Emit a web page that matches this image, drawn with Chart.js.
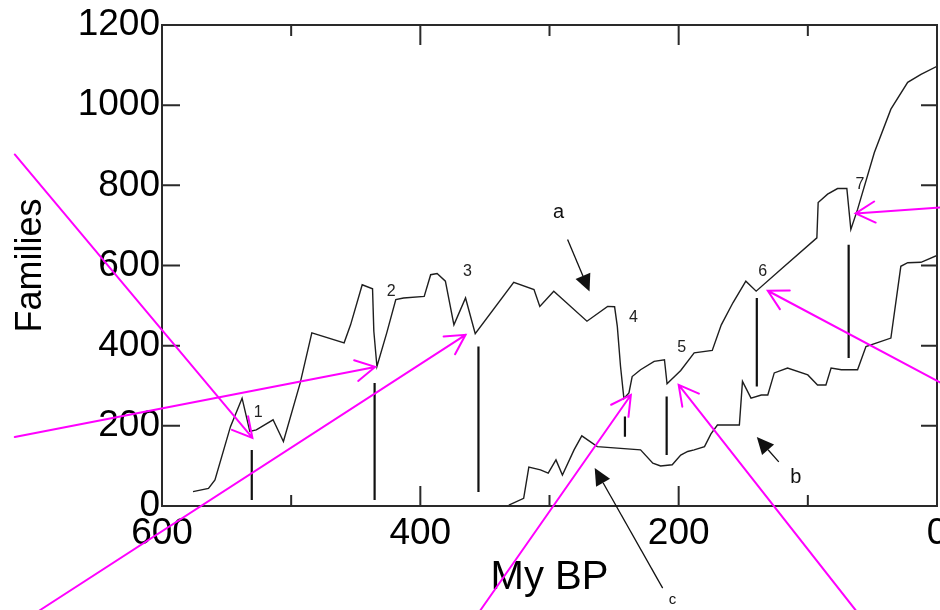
<!DOCTYPE html>
<html>
<head>
<meta charset="utf-8">
<script src="https://cdn.jsdelivr.net/npm/chart.js@4.4.0/dist/chart.umd.min.js"></script>
<style>
  html, body { margin: 0; padding: 0; background: #fff; }
  #wrap { width: 940px; height: 610px; }
</style>
</head>
<body>
<div id="wrap"><canvas id="famChart"></canvas></div>
<script>
// upper curve (a)
var aAge = [576, 564, 559, 547, 538, 532, 527, 514, 506, 493, 484, 459, 454, 445, 437, 436, 433.6, 426, 419, 413,
            397, 392, 387, 380.6, 374, 365, 357.5, 327.7, 312, 307.5, 296.7, 271, 255, 249.6, 247.5, 245, 242.4, 238.5, 236, 229.5,
            219, 211, 209, 198.4, 188, 174, 167, 158, 148, 140, 121, 93, 92, 84.7, 77, 69.8, 66.7, 61.5, 48.5, 35.7,
            22.7, 12.4, 0];
var aFamilies = [36, 44, 65, 198, 269, 186, 190, 215, 161, 307, 432, 407, 452, 552, 542, 436, 348, 432, 515, 519,
                 523, 577, 580, 561, 452, 519, 430, 558, 540, 498, 536, 461, 498, 497, 448, 348, 268, 282, 323, 340,
                 361, 365, 305, 338, 382, 388, 452, 507, 561, 536, 590, 669, 757, 778, 792, 792, 690, 740, 882, 990,
                 1057, 1077, 1097];

// lower curve (b)
var bAge = [331.5, 320, 316, 307, 301, 295, 290, 281, 275, 263, 229.5, 220, 214, 205, 198.4, 193, 188, 180, 175, 170,
            153, 150.6, 144, 136, 131, 126, 115.7, 100, 92.5, 86, 82, 74, 61.5, 55, 35.7, 28, 22.7, 12.4, 0];
var bFamilies = [2, 19, 97, 90, 82, 115, 77, 140, 175, 148, 140, 107, 100, 103, 127, 136, 140, 148, 180, 202,
                 202, 311, 269, 277, 277, 332, 344, 327, 302, 302, 344, 340, 340, 398, 419, 598, 607, 608, 625];

// extinction markers 1-7 (vertical bars)
var markNames = ['1', '2', '3', '4', '5', '6', '7'];
var markAge = [530.5, 435.4, 355, 241.6, 209.3, 139.5, 68.4];
var markLow = [15, 15, 35, 173, 127, 298, 369];
var markHigh = [140, 307, 398, 223, 273, 519, 652];
var markLabelAge = [525.6, 422.5, 363.6, 235, 197.7, 134.9, 59.7];
var markLabelFam = [232, 535, 585, 470, 395, 585, 802];

// letter callouts a, b, c: label spot, arrow tail, arrow head
var letterNames = ['a', 'b', 'c'];
var letterAge = [293, 109.3, 204.7];
var letterFam = [732, 70, -235];
var letterSize = [20, 20, 15];
var letterFromAge = [286, 122.5, 212.4];
var letterFromFam = [665, 110, -205];
var letterToAge = [269, 139.5, 265];
var letterToFam = [535, 172, 95];

// magenta pointers (tail -> head)
var pinkFromAge = [714, 714, 694.6, 353.5, 63, -3, -3];
var pinkFromFam = [877, 172, -260, -260, -260, 307, 745];
var pinkToAge = [530, 435, 365, 237, 200, 131, 63];
var pinkToFam = [170, 347, 427, 277, 302, 537, 730];

var xMinor = [100, 200, 300, 400, 500];
var yMinor = [200, 400, 600, 800, 1000];

function xy(list1, list2) {
    return list1.map(function(v, i) { return { x: v, y: list2[i] }; });
}

var markData = [];
markAge.forEach(function(age, i) {
    markData.push({ x: age, y: markLow[i] }, { x: age, y: markHigh[i] }, { x: age, y: null });
});

function openArrow(ctx, x1, y1, x2, y2, len) {
    var ang = Math.atan2(y2 - y1, x2 - x1);
    ctx.beginPath();
    ctx.moveTo(x1, y1);
    ctx.lineTo(x2, y2);
    ctx.moveTo(x2 - len * Math.cos(ang - 0.5), y2 - len * Math.sin(ang - 0.5));
    ctx.lineTo(x2, y2);
    ctx.lineTo(x2 - len * Math.cos(ang + 0.5), y2 - len * Math.sin(ang + 0.5));
    ctx.stroke();
}

function solidArrow(ctx, x1, y1, x2, y2) {
    var ang = Math.atan2(y2 - y1, x2 - x1);
    var len = 17, half = 8;
    var bx = x2 - len * Math.cos(ang), by = y2 - len * Math.sin(ang);
    ctx.beginPath();
    ctx.moveTo(x1, y1);
    ctx.lineTo(bx, by);
    ctx.stroke();
    ctx.beginPath();
    ctx.moveTo(x2, y2);
    ctx.lineTo(bx + half * Math.sin(ang), by - half * Math.cos(ang));
    ctx.lineTo(bx - half * Math.sin(ang), by + half * Math.cos(ang));
    ctx.closePath();
    ctx.fill();
}

var decor = {
    id: 'decor',
    afterDatasetsDraw: function(chart) {
        var ctx = chart.ctx, area = chart.chartArea;
        var sx = chart.scales.x, sy = chart.scales.y;
        ctx.save();

        // frame
        ctx.strokeStyle = '#2a2a2a';
        ctx.lineWidth = 2;
        ctx.strokeRect(area.left, area.top, area.right - area.left, area.bottom - area.top);

        // inward ticks
        ctx.lineWidth = 2;
        ctx.beginPath();
        xMinor.forEach(function(v) {
            var p = sx.getPixelForValue(v);
            var len = v % 200 === 0 ? 20 : 11;
            ctx.moveTo(p, area.bottom); ctx.lineTo(p, area.bottom - len);
            ctx.moveTo(p, area.top); ctx.lineTo(p, area.top + len);
        });
        yMinor.forEach(function(v) {
            var p = sy.getPixelForValue(v);
            ctx.moveTo(area.left, p); ctx.lineTo(area.left + 18, p);
            ctx.moveTo(area.right, p); ctx.lineTo(area.right - 16, p);
        });
        ctx.stroke();

        // marker numbers
        ctx.fillStyle = '#222';
        ctx.textAlign = 'center';
        ctx.textBaseline = 'middle';
        ctx.font = '16px "Liberation Sans", Arial, sans-serif';
        markNames.forEach(function(t, i) {
            ctx.fillText(t, sx.getPixelForValue(markLabelAge[i]), sy.getPixelForValue(markLabelFam[i]));
        });

        // letter callouts
        ctx.strokeStyle = '#111';
        ctx.fillStyle = '#111';
        ctx.lineWidth = 1.3;
        letterNames.forEach(function(t, i) {
            ctx.font = letterSize[i] + 'px "Liberation Sans", Arial, sans-serif';
            ctx.fillText(t, sx.getPixelForValue(letterAge[i]), sy.getPixelForValue(letterFam[i]));
            solidArrow(ctx,
                sx.getPixelForValue(letterFromAge[i]), sy.getPixelForValue(letterFromFam[i]),
                sx.getPixelForValue(letterToAge[i]), sy.getPixelForValue(letterToFam[i]));
        });
        ctx.restore();
    },
    afterDraw: function(chart) {
        var ctx = chart.ctx;
        var sx = chart.scales.x, sy = chart.scales.y;
        ctx.save();
        ctx.strokeStyle = '#ff00ff';
        ctx.lineWidth = 2;
        ctx.lineCap = 'round';
        pinkToAge.forEach(function(age, i) {
            openArrow(ctx,
                sx.getPixelForValue(pinkFromAge[i]), sy.getPixelForValue(pinkFromFam[i]),
                sx.getPixelForValue(age), sy.getPixelForValue(pinkToFam[i]), 22);
        });
        ctx.restore();
    }
};

var tickFont = { family: '"Liberation Sans", Arial, sans-serif', size: 37 };
function plainLabel(v) { return String(v); }

new Chart(document.getElementById('famChart'), {
    type: 'line',
    data: {
        datasets: [
            { data: xy(aAge, aFamilies), borderColor: '#1e1e1e', borderWidth: 1.4, pointRadius: 0, tension: 0 },
            { data: xy(bAge, bFamilies), borderColor: '#1e1e1e', borderWidth: 1.4, pointRadius: 0, tension: 0 },
            { data: markData, borderColor: '#111', borderWidth: 2.2, pointRadius: 0, spanGaps: false }
        ]
    },
    options: {
        responsive: true,
        maintainAspectRatio: false,
        animation: false,
        layout: { padding: { top: 25, right: 3, left: 0, bottom: 0 }, autoPadding: false },
        plugins: { legend: { display: false }, tooltip: { enabled: false } },
        scales: {
            x: {
                type: 'linear', min: 0, max: 600, reverse: true,
                grid: { display: false, drawTicks: false },
                border: { display: false },
                ticks: { stepSize: 200, font: tickFont, color: '#000', padding: 6, maxRotation: 0, callback: plainLabel },
                title: { display: true, text: 'My BP', color: '#000', padding: { top: 0, bottom: 8 },
                         font: { family: '"Liberation Sans", Arial, sans-serif', size: 40 } },
                afterFit: function(scale) {
                    scale.height = 104;
                    scale.paddingLeft = 0;
                    scale.paddingRight = 0;
                }
            },
            y: {
                min: 0, max: 1200,
                grid: { display: false, drawTicks: false },
                border: { display: false },
                ticks: { stepSize: 200, font: tickFont, color: '#000', padding: 2, callback: plainLabel },
                title: { display: true, text: 'Families', color: '#000', padding: { top: 9, bottom: 0 },
                         font: { family: '"Liberation Sans", Arial, sans-serif', size: 36 } },
                afterFit: function(scale) { scale.width = 162; }
            }
        }
    },
    plugins: [decor]
});
</script>
</body>
</html>
